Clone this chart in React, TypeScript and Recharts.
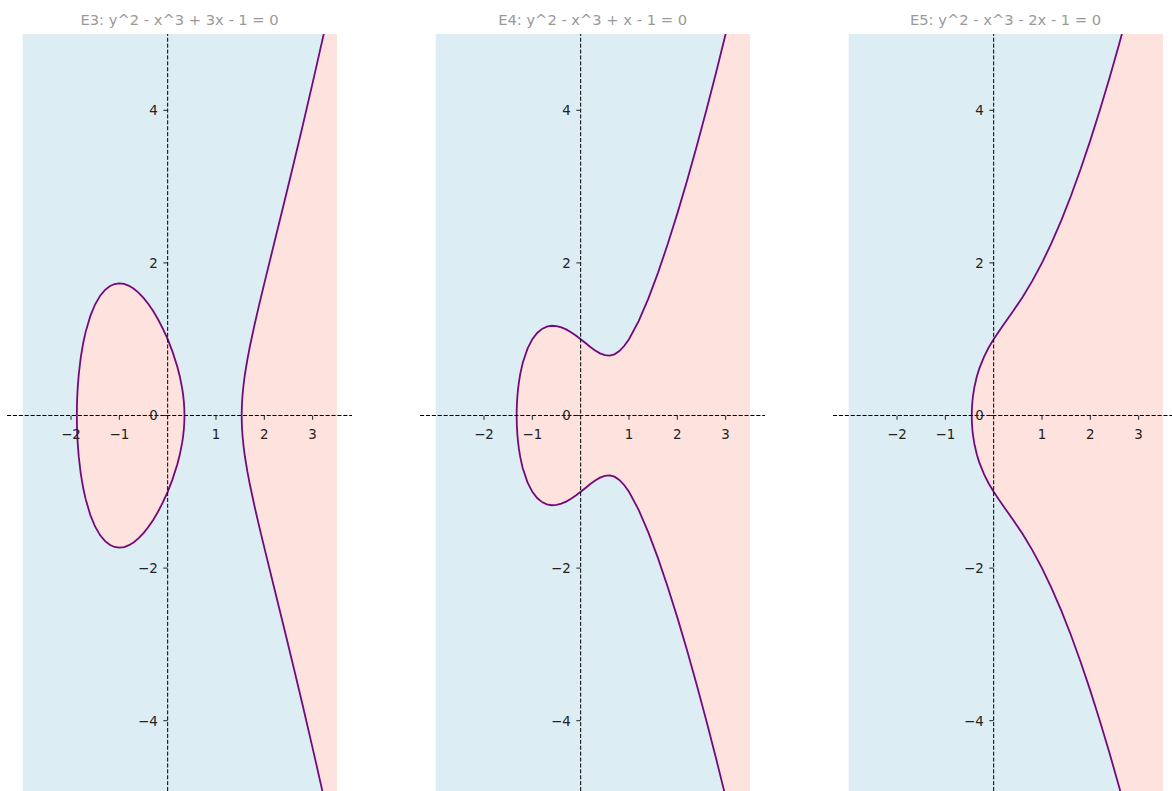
import { ComposedChart, Area, XAxis, YAxis, ReferenceLine } from "recharts";

// upper halves of the three curves (lower half is the mirror image)
const e3OvalX = [-1.8794, -1.878, -1.875, -1.87, -1.86, -1.84, -1.8, -1.75, -1.7, -1.6, -1.5, -1.4, -1.3, -1.2, -1.1, -1.0, -0.9, -0.8, -0.7, -0.6, -0.5, -0.4, -0.3, -0.2, -0.1, 0, 0.1, 0.2, 0.25, 0.3, 0.32, 0.335, 0.345, 0.3473];
const e3OvalY = [0, 0.1025, 0.1822, 0.266, 0.381, 0.539, 0.754, 0.944, 1.0895, 1.3054, 1.4577, 1.5672, 1.6441, 1.6947, 1.7231, 1.7321, 1.7237, 1.6994, 1.6604, 1.6075, 1.5411, 1.4615, 1.3686, 1.2617, 1.1397, 1, 0.8373, 0.6387, 0.5154, 0.3564, 0.2698, 0.1805, 0.0779, 0];
const e3BranchX = [1.5321, 1.533, 1.535, 1.54, 1.55, 1.57, 1.6, 1.65, 1.7, 1.8, 1.9, 2.0, 2.2, 2.4, 2.6, 2.8, 3.0, 3.2, 3.4, 3.5];
const e3BranchY = [0, 0.0607, 0.1087, 0.1796, 0.2718, 0.3999, 0.5441, 0.7363, 0.9017, 1.1967, 1.4694, 1.7321, 2.2468, 2.7611, 3.2827, 3.8147, 4.3589, 4.9161, 5.4867, 5.7771];
const e4X = [-1.3247, -1.324, -1.32, -1.31, -1.3, -1.28, -1.25, -1.2, -1.1, -1.0, -0.9, -0.8, -0.7, -0.6, -0.5, -0.4, -0.3, -0.2, -0.1, 0, 0.1, 0.2, 0.3, 0.4, 0.5, 0.6, 0.7, 0.8, 0.9, 1.0, 1.2, 1.4, 1.6, 1.8, 2.0, 2.2, 2.4, 2.6, 2.8, 3.0, 3.2, 3.5];
const e4Y = [0, 0.0553, 0.1415, 0.2488, 0.3209, 0.4276, 0.5449, 0.687, 0.8769, 1, 1.0821, 1.1349, 1.1649, 1.1764, 1.1726, 1.1559, 1.1283, 1.0918, 1.0483, 1, 0.9492, 0.8989, 0.8526, 0.8149, 0.7906, 0.7849, 0.8019, 0.8438, 0.9105, 1, 1.2361, 1.531, 1.8698, 2.2432, 2.6458, 3.0737, 3.5248, 3.997, 4.4891, 5, 5.5288, 6.3542];
const e5X = [-0.4534, -0.453, -0.45, -0.44, -0.43, -0.4, -0.35, -0.3, -0.2, -0.1, 0, 0.1, 0.2, 0.4, 0.6, 0.8, 1.0, 1.2, 1.4, 1.6, 1.8, 2.0, 2.2, 2.4, 2.6, 2.8, 3.0, 3.5];
const e5Y = [0, 0.0322, 0.0942, 0.1866, 0.246, 0.3688, 0.5071, 0.6107, 0.7694, 0.8939, 1, 1.0959, 1.1866, 1.3653, 1.5544, 1.7641, 2, 2.2645, 2.5581, 2.8803, 3.2299, 3.6056, 4.006, 4.4299, 4.8761, 5.3434, 5.831, 7.1327];

const titles = ["E3: y^2 - x^3 + 3x - 1 = 0", "E4: y^2 - x^3 + x - 1 = 0", "E5: y^2 - x^3 - 2x - 1 = 0"];
const gridX = [-3, 3.5]; // extent of the shaded grid
const gridY = [-5, 5];
const xTicks = [-2, -1, 1, 2, 3];
const yTicks = [-4, -2, 0, 2, 4];

const X_MIN = -3.325;
const X_MAX = 3.825;
const PW = 345.5;
const PH = 763;
const TOP = 34;
const LEFTS = [6.83, 419.83, 832.83];
const X0 = (PW * (0 - X_MIN)) / (X_MAX - X_MIN);
const Y0 = (PH * gridY[1]) / (gridY[1] - gridY[0]);

const BLUE = "#dcedf4";
const PINK = "#fde2de";
const CURVE = "#740a7a";
const INK = "#222";
const FONT = "DejaVu Sans, sans-serif";
const TICK_SIZE = 13.4;

type Row = { x: number; [k: string]: any };

function buildRows(parts: { key: string; xs: number[]; ys: number[] }[]): Row[] {
  const byX = new Map<number, Row>();
  const put = (x: number, key: string, v: number[]) => {
    const row = byX.get(x) ?? { x };
    row[key] = v;
    byX.set(x, row);
  };
  gridX.forEach((x) => put(x, "bg", gridY));
  parts.forEach((p) => p.xs.forEach((x, i) => put(x, p.key, [-p.ys[i], p.ys[i]])));
  return [...byX.values()].sort((a, b) => a.x - b.x);
}

const panels = [
  { title: titles[0], rows: buildRows([{ key: "a", xs: e3OvalX, ys: e3OvalY }, { key: "b", xs: e3BranchX, ys: e3BranchY }]), keys: ["a", "b"] },
  { title: titles[1], rows: buildRows([{ key: "a", xs: e4X, ys: e4Y }]), keys: ["a"] },
  { title: titles[2], rows: buildRows([{ key: "a", xs: e5X, ys: e5Y }]), keys: ["a"] },
];

const fmt = (v: number) => (v < 0 ? "\u2212" + Math.abs(v) : String(v));

// ticks sit on the zero lines, so they are drawn at the crossing, not at the plot edge
const XTick = (props: any) => {
  const { x, payload } = props;
  return (
    <g>
      <line x1={x} x2={x} y1={Y0} y2={Y0 + 4.3} stroke={INK} strokeWidth={1} />
      <text x={x} y={Y0 + 23.5} textAnchor="middle" fontSize={TICK_SIZE} fontFamily={FONT} fill={INK}>
        {fmt(payload.value)}
      </text>
    </g>
  );
};

const YTick = (props: any) => {
  const { y, payload } = props;
  return (
    <g>
      <line x1={1 + X0 - 4.3} x2={1 + X0} y1={y} y2={y} stroke={INK} strokeWidth={1} />
      <text x={1 + X0 - 10} y={y + 4.8} textAnchor="end" fontSize={TICK_SIZE} fontFamily={FONT} fill={INK}>
        {fmt(payload.value)}
      </text>
    </g>
  );
};

function Panel({ title, rows, keys, left }: { title: string; rows: Row[]; keys: string[]; left: number }) {
  return (
    <>
      <div
        style={{
          position: "absolute",
          left,
          top: 12,
          width: PW,
          textAlign: "center",
          fontFamily: FONT,
          fontSize: 14.7,
          lineHeight: "16px",
          color: "#999",
          whiteSpace: "nowrap",
        }}
      >
        {title}
      </div>
      <div style={{ position: "absolute", left: left - 1, top: TOP }}>
        <ComposedChart width={PW + 1} height={PH + 1} data={rows} margin={{ top: 0, right: 0, bottom: 0, left: 0 }}>
          <XAxis
            dataKey="x"
            type="number"
            domain={[X_MIN, X_MAX]}
            ticks={xTicks}
            interval={0}
            height={1}
            axisLine={false}
            tickLine={false}
            tick={XTick}
            allowDataOverflow
          />
          <YAxis
            type="number"
            domain={gridY}
            ticks={yTicks}
            interval={0}
            width={1}
            axisLine={false}
            tickLine={false}
            tick={YTick}
            allowDataOverflow
          />
          <Area dataKey="bg" type="linear" fill={BLUE} fillOpacity={1} stroke="none" connectNulls isAnimationActive={false} />
          {keys.map((k) => (
            <Area
              key={k}
              dataKey={k}
              type="linear"
              fill={PINK}
              fillOpacity={1}
              stroke={CURVE}
              strokeWidth={1.8}
              isAnimationActive={false}
            />
          ))}
          <ReferenceLine y={0} stroke="#000" strokeWidth={1} strokeDasharray="4.1 1.8" />
          <ReferenceLine x={0} stroke="#000" strokeWidth={1} strokeDasharray="4.1 1.8" />
        </ComposedChart>
      </div>
    </>
  );
}

export default function App() {
  return (
    <div style={{ position: "fixed", left: 0, top: 0, width: 1172, height: 791, overflow: "hidden", background: "#fff" }}>
      {panels.map((p, i) => (
        <Panel key={i} title={p.title} rows={p.rows} keys={p.keys} left={LEFTS[i]} />
      ))}
    </div>
  );
}
